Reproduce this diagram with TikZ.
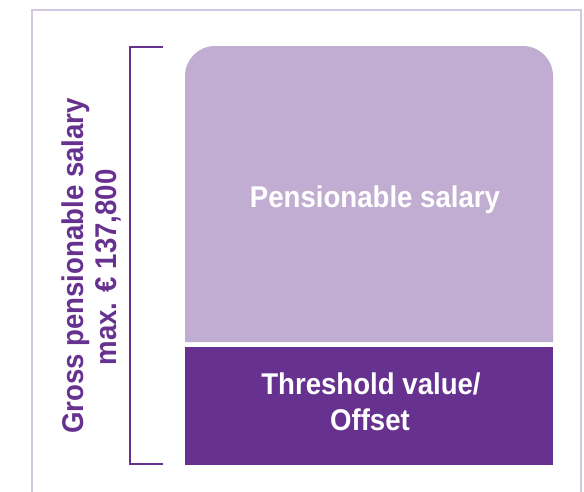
\documentclass[tikz,border=0pt]{standalone}
\usepackage{fontspec}
\setmainfont[FakeStretch=0.92]{Liberation Sans}
\definecolor{lightp}{HTML}{C1ADD2}
\definecolor{darkp}{HTML}{66318F}
\definecolor{framep}{HTML}{D3C8E2}
\begin{document}
\begin{tikzpicture}[x=1pt,y=-1pt,
  lbl/.style={font=\bfseries\fontsize{30}{36}\selectfont, inner sep=0pt, anchor=base},
  boxtxt/.style={lbl, text=white},
  sidetxt/.style={lbl, text=darkp, rotate=90}]
\useasboundingbox (0,0) rectangle (584,491);
\fill[white] (0,0) rectangle (584,491);
\draw[framep, line width=1.2pt] (32,495) -- (32,10) -- (581,10) -- (581,495);
\fill[lightp] (185,342) -- (185,76) arc[start angle=180, end angle=90, radius=30pt]
  -- (523,46) arc[start angle=90, end angle=0, radius=30pt] -- (553,342) -- cycle;
\fill[darkp] (185,347) rectangle (553,465);
\node[boxtxt] (ps) at (375,207) {Pensionable salary};
\node[boxtxt] (tv1) at (371,394) {Threshold value/};
\node[boxtxt] (tv2) at (370,430) {Offset};
\draw[darkp, line width=2.4pt] (163,47) -- (130,47) -- (130,464) -- (163,464);
\node[sidetxt] (gps1) at (83,266) {Gross pensionable salary};
\node[sidetxt] (gps2) at (116,267.5) {max. € 137,800};
\end{tikzpicture}
\end{document}
